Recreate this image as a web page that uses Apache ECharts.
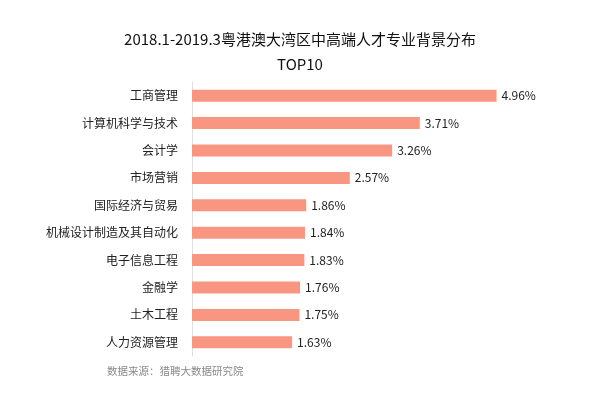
<!DOCTYPE html>
<html><head><meta charset="utf-8">
<script src="https://cdn.jsdelivr.net/npm/echarts@6/dist/echarts.min.js"></script>
<style>html,body{margin:0;padding:0;background:#fff}#c{width:600px;height:414px}</style>
</head><body><div id="c"></div>
<script>
const categories = ['工商管理','计算机科学与技术','会计学','市场营销','国际经济与贸易','机械设计制造及其自动化','电子信息工程','金融学','土木工程','人力资源管理'];
const values = [4.96,3.71,3.26,2.57,1.86,1.84,1.83,1.76,1.75,1.63];
const titleText = '2018.1-2019.3粤港澳大湾区中高端人才专业背景分布\nTOP10';
const sourceText = '数据来源：猎聘大数据研究院';
const FONT = '"Noto Sans CJK SC", sans-serif';
const chart = echarts.init(document.getElementById('c'));
chart.setOption({
  animation: false,
  backgroundColor: '#fff',
  textStyle: {fontFamily: FONT},
  title: {
    text: titleText, left: 'center', top: 22,
    textStyle: {fontFamily: FONT, fontSize: 15, fontWeight: 'normal', color: '#111', lineHeight: 25}
  },
  graphic: [{type: 'text', left: 107, top: 366, style: {text: sourceText, font: '10.5px ' + FONT, fill: '#8a8a8a'}}],
  grid: {left: 192, right: 101, top: 82, height: 274, containLabel: false},
  xAxis: {type: 'value', min: 0, max: 5, show: false},
  yAxis: {
    type: 'category', data: categories, inverse: true,
    axisLine: {show: true, lineStyle: {color: '#e0e0e0', width: 1}},
    axisTick: {show: false},
    axisLabel: {color: '#222', fontSize: 12, margin: 14, fontFamily: FONT}
  },
  series: [{
    type: 'bar', data: values, barWidth: 12,
    itemStyle: {color: '#F99682'},
    label: {show: true, position: 'right', distance: 5, color: '#222', fontSize: 12, fontFamily: FONT,
      formatter: p => p.value.toFixed(2) + '%'}
  }]
});
</script></body></html>
